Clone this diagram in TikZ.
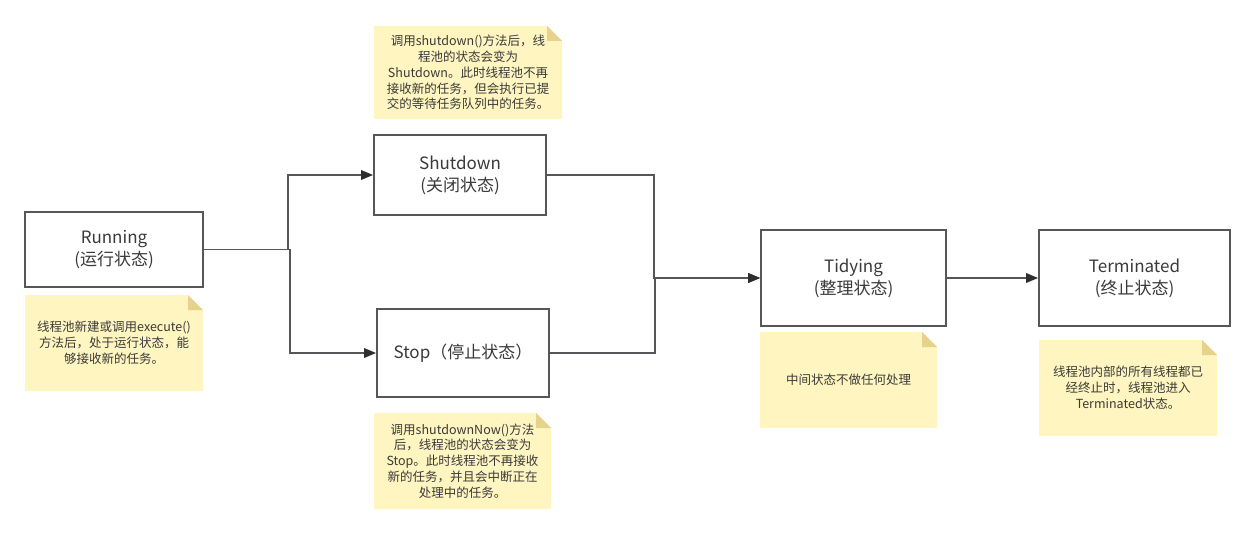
\documentclass[tikz,border=0pt]{standalone}
\usepackage{fontspec}
\setmainfont{Noto Sans CJK SC}
\usetikzlibrary{arrows.meta}
\definecolor{notefill}{HTML}{FFF5C0}
\definecolor{notefold}{HTML}{E6D28C}
\definecolor{boxline}{HTML}{55575B}
\definecolor{txt}{HTML}{3A3A3A}
\definecolor{tipc}{HTML}{2E2E2E}
\newcommand\stickynote[6]{%
  \fill[notefill] (#2,#3) -- (#4-15,#3) -- (#4,#3+15) -- (#4,#5) -- (#2,#5) -- cycle;
  \fill[notefold] (#4-15,#3) -- (#4-15,#3+15) -- (#4,#3+15) -- cycle;
  \node[notetext] (#1) at ({(#2+#4)/2},{(#3+#5)/2}) {#6};
}
\begin{document}
\begin{tikzpicture}[x=1pt,y=-1pt,
  state/.style={draw=boxline,line width=1.8pt,fill=white,text=txt,align=center,
    font=\fontsize{17}{22}\selectfont,inner sep=0pt},
  notetext/.style={align=center,text=txt,font=\fontsize{12.5}{15.8}\selectfont,inner sep=0pt},
  conn/.style={draw=boxline,line width=1.8pt},
  arr/.style={conn,-{Triangle[length=12pt,width=9.5pt,color=tipc]}}]
\useasboundingbox (0,0) rectangle (1255,535);

% states
\node[state,minimum width=178pt,minimum height=75pt] (run) at (114,249.5) {Running\\(运行状态)};
\node[state,minimum width=172pt,minimum height=80pt] (shut) at (460,175) {Shutdown\\(关闭状态)};
\node[state,minimum width=172pt,minimum height=88pt] (stop) at (463,353) {Stop（停止状态）};
\node[state,minimum width=185pt,minimum height=96pt] (tidy) at (853.5,278) {Tidying\\(整理状态)};
\node[state,minimum width=191pt,minimum height=96pt] (term) at (1134.5,278) {Terminated\\(终止状态)};

% junctions
\coordinate (j1) at (288,249.5);
\coordinate (j2) at (290,249.5);
\coordinate (j3) at (654,278);
\coordinate (j4) at (655,278);

% connectors
\draw[arr] (run.east) -- (j1) |- (shut.west);
\draw[arr] (run.east) -- (j2) |- (stop.west);
\draw[arr] (shut.east) -| (j3) -- (tidy.west);
\draw[arr] (stop.east) -| (j4) -- (tidy.west);
\draw[arr] (tidy.east) -- (term.west);

% notes
\stickynote{nshut}{374}{26}{562}{119}{调用shutdown()方法后，线\\程池的状态会变为\\Shutdown。此时线程池不再\\接收新的任务，但会执行已提\\交的等待任务队列中的任务。}
\stickynote{nrun}{25}{295}{203}{391}{线程池新建或调用execute()\\方法后，处于运行状态，能\\够接收新的任务。}
\stickynote{nstop}{374}{413}{551}{509}{调用shutdownNow()方法\\后，线程池的状态会变为\\Stop。此时线程池不再接收\\新的任务，并且会中断正在\\处理中的任务。}
\stickynote{ntidy}{760}{332}{937}{428}{中间状态不做任何处理}
\stickynote{nterm}{1039}{340}{1217}{436}{线程池内部的所有线程都已\\经终止时，线程池进入\\Terminated状态。}
\end{tikzpicture}
\end{document}
